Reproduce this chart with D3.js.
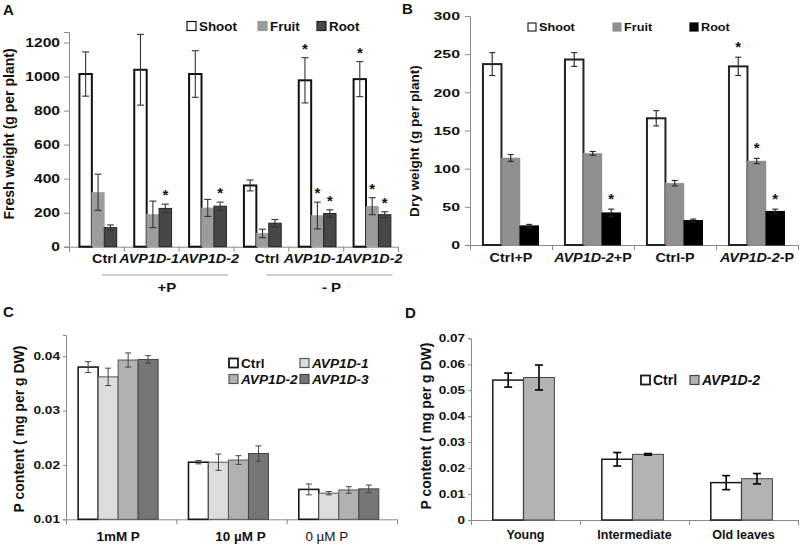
<!DOCTYPE html>
<html><head><meta charset="utf-8">
<script src="https://cdn.jsdelivr.net/npm/d3@7"></script>
<style>
body{margin:0;background:#fff}
svg{display:block}
text{font-family:Arial,"Liberation Sans",sans-serif}
</style>
</head><body>
<svg id="chart" width="800" height="545"></svg>
<script>
// ---------- Panel A : fresh weight ----------
const aGroups = ["Ctrl","AVP1D-1","AVP1D-2","Ctrl","AVP1D-1","AVP1D-2"];
const aSeries = ["Shoot","Fruit","Root"];
const aShoot = [1015,1040,1015,360,978,985];
const aShootErr = [130,208,137,32,133,103];
const aFruit = [320,190,228,78,183,238];
const aFruitErr = [106,78,50,25,79,50];
const aRoot = [112,225,238,138,195,188];
const aRootErr = [16,25,24,22,22,17];
const aStars = [[0,0,0],[0,0,1],[0,0,1],[0,0,0],[1,1,1],[1,1,1]];
const aTicks = [0,200,400,600,800,1000,1200];
const aConditions = ["+P","- P"];

// ---------- Panel B : dry weight ----------
const bGroups = ["Ctrl+P","AVP1D-2+P","Ctrl-P","AVP1D-2-P"];
const bSeries = ["Shoot","Fruit","Root"];
const bShoot = [237,243,166,234];
const bShootErr = [15,9,10,12];
const bFruit = [114,120,81,110];
const bFruitErr = [4.5,2.5,3.5,3.5];
const bRoot = [25,42,32,44];
const bRootErr = [2,5,2,3];
const bStars = [[0,0,0],[0,0,1],[0,0,0],[1,1,1]];
const bTicks = [0,50,100,150,200,250,300];

// ---------- Panel C : P content by P supply ----------
const cGroups = ["1mM P","10 \u00b5M P","0 \u00b5M P"];
const cSeries = ["Ctrl","AVP1D-1","AVP1D-2","AVP1D-3"];
const cCtrl = [0.0380,0.0205,0.0155];
const cCtrlErr = [0.0010,0.0003,0.0010];
const cL1 = [0.0362,0.0205,0.0148];
const cL1Err = [0.0016,0.0015,0.0003];
const cL2 = [0.0393,0.0209,0.0154];
const cL2Err = [0.0013,0.0008,0.0006];
const cL3 = [0.0394,0.0221,0.0156];
const cL3Err = [0.0007,0.0014,0.0007];
const cTicks = [0.01,0.02,0.03,0.04];

// ---------- Panel D : P content by leaf age ----------
const dGroups = ["Young","Intermediate","Old leaves"];
const dSeries = ["Ctrl","AVP1D-2"];
const dCtrl = [0.0539,0.0234,0.0144];
const dCtrlErr = [0.0027,0.0026,0.0027];
const dL2 = [0.0549,0.0253,0.0159];
const dL2Err = [0.0048,0.0003,0.0020];
const dTicks = [0,0.01,0.02,0.03,0.04,0.05,0.06,0.07];

const svg = d3.select("#chart");
const FONT = 'Arial, "Liberation Sans", sans-serif';

function stretch(sel, k){
  sel.each(function(){
    const L = this.getComputedTextLength();
    d3.select(this).attr("textLength", L*k).attr("lengthAdjust","spacingAndGlyphs");
  });
}
// write a label with italic gene names
function richText(t, label){
  const m = label.match(/^(AVP1D-\d)(.*)$/);
  if(m){
    t.append("tspan").attr("font-style","italic").text(m[1]);
    if(m[2]) t.append("tspan").text(m[2]);
  } else t.text(label);
  return t;
}

function panel(o){
  const g = svg.append("g");
  const n = o.groups.length;
  const x0 = d3.scaleBand().domain(d3.range(n)).range(o.xr);
  const bw = x0.bandwidth();
  const x1 = d3.scaleBand().domain(d3.range(o.series.length)).range([bw*o.inner[0], bw*o.inner[1]]);
  const y = d3.scaleLinear().domain(o.yd).range(o.yr);

  // y axis
  const ya = g.append("g").attr("transform",`translate(${o.xr[0]},0)`)
    .call(d3.axisLeft(y).tickValues(o.ticks).tickSizeOuter(0).tickSize(o.tickLen).tickPadding(o.tickPad)
      .tickFormat(o.tickFmt));
  ya.select(".domain").attr("stroke","#8a8a8a");
  ya.selectAll(".tick line").attr("stroke","#8a8a8a");
  ya.selectAll("text").attr("font-family",FONT).attr("font-size",o.tickFs).attr("font-weight","bold").attr("fill","#111");
  ya.attr("font-family",null).attr("font-size",null);
  stretch(ya.selectAll("text"), o.tickStretch);

  // x axis with boundary ticks
  const xb = d3.scaleLinear().domain([0,n]).range(o.xr);
  const xa = g.append("g").attr("transform",`translate(0,${o.yr[0]})`)
    .call(d3.axisBottom(xb).tickValues(d3.range(n+1)).tickFormat("").tickSizeOuter(0).tickSize(5));
  xa.select(".domain").attr("stroke","#8a8a8a");
  xa.selectAll(".tick line").attr("stroke","#8a8a8a");

  // bars
  o.series.forEach((s,si)=>{
    const st = o.styles[si];
    g.append("g").selectAll("rect").data(o.values[si]).join("rect")
      .attr("x",(d,i)=>x0(i)+x1(si)).attr("width",x1.bandwidth())
      .attr("y",d=>y(d)).attr("height",d=>y(o.yd[0])-y(d))
      .attr("fill",st.fill).attr("stroke",st.stroke).attr("stroke-width",st.sw);
  });
  // error bars & stars
  o.series.forEach((s,si)=>{
    const eg = g.append("g").attr("stroke",o.errColor).attr("stroke-width",o.errW).attr("fill","none");
    o.values[si].forEach((v,i)=>{
      const e = o.errs[si][i];
      const cx = x0(i)+x1(si)+x1.bandwidth()/2;
      const cw = o.capW/2;
      eg.append("line").attr("x1",cx).attr("x2",cx).attr("y1",y(v-e)).attr("y2",y(v+e));
      eg.append("line").attr("x1",cx-cw).attr("x2",cx+cw).attr("y1",y(v-e)).attr("y2",y(v-e));
      eg.append("line").attr("x1",cx-cw).attr("x2",cx+cw).attr("y1",y(v+e)).attr("y2",y(v+e));
      if(o.stars && o.stars[i][si]){
        g.append("text").attr("x",cx).attr("y",y(v+e)-o.starGap+10).attr("text-anchor","middle")
          .attr("font-size",15).attr("font-weight","bold").attr("fill","#111").text("*");
      }
    });
  });
  // x labels
  o.groups.forEach((lab,i)=>{
    const t = g.append("text").attr("x",x0(i)+bw/2+(o.labelDx? o.labelDx[i]:0)).attr("y",o.labelY)
      .attr("text-anchor","middle").attr("font-size",o.labelFs)
      .attr("font-weight", (o.labelBold? o.labelBold[i] : true) ? "bold":"normal").attr("fill","#111");
    richText(t, lab);
    stretch(t, o.labelStretch);
  });
  // y title
  g.append("text").attr("transform",`translate(${o.yTitle.x},${o.yTitle.y}) rotate(-90)`)
    .attr("text-anchor","middle").attr("font-size",o.yTitle.fs).attr("font-weight","bold").attr("fill","#111")
    .text(o.yTitle.text);
  // panel letter
  g.append("text").attr("x",o.letter.x).attr("y",o.letter.y).attr("font-size",15).attr("font-weight","bold")
    .attr("fill","#111").text(o.letter.t);
  // legend
  o.legend.forEach((L,si)=>{
    const st = o.styles[si];
    g.append("rect").attr("x",L.x).attr("y",L.y-L.s/2).attr("width",L.s).attr("height",L.s)
      .attr("fill",st.fill).attr("stroke",st.legStroke||st.stroke).attr("stroke-width",st.legSw||1.2);
    const t = g.append("text").attr("x",L.x+L.s+L.gap).attr("y",L.y+o.legFs*0.36)
      .attr("font-size",o.legFs).attr("font-weight","bold").attr("fill","#111");
    richText(t, o.series[si]);
    stretch(t, o.legStretch);
  });
  return {g,x0,y,bw};
}

// ----- A -----
const A = panel({
  groups:aGroups, series:aSeries,
  values:[aShoot,aFruit,aRoot], errs:[aShootErr,aFruitErr,aRootErr], stars:aStars,
  xr:[69,398], inner:[0.19,0.87], yd:[0,1262], yr:[246.7,32], ticks:aTicks, tickFmt:d3.format("d"),
  tickLen:5, tickPad:4, tickFs:12, tickStretch:1.3,
  styles:[{fill:"#fff",stroke:"#111",sw:2},{fill:"#9c9c9c",stroke:"#9c9c9c",sw:0.5,legStroke:"#9c9c9c"},{fill:"#474747",stroke:"#222",sw:1}],
  errColor:"#333", errW:1.1, capW:7, starGap:14,
  labelY:262.5, labelFs:12, labelStretch:1.2, labelDx:[8,-2,3,6,-2,2],
  yTitle:{x:14,y:134,fs:14,text:"Fresh weight (g per plant)"},
  letter:{x:3,y:15,t:"A"},
  legend:[{x:187,y:26,s:9,gap:3},{x:258,y:26,s:9,gap:3},{x:317,y:26,s:9,gap:3}],
  legFs:12.5, legStretch:1.07
});
// +P / -P condition lines
aConditions.forEach((c,k)=>{
  const x1 = A.x0(k*3)+A.bw*0.6, x2 = A.x0(k*3+2)+A.bw*0.9;
  A.g.append("line").attr("x1",x1).attr("x2",x2).attr("y1",275).attr("y2",275).attr("stroke","#999").attr("stroke-width",1);
  const t = A.g.append("text").attr("x",(x1+x2)/2+2).attr("y",292).attr("text-anchor","middle")
    .attr("font-size",13).attr("font-weight","bold").attr("fill","#111").text(c);
  stretch(t,1.15);
});

// ----- B -----
panel({
  groups:bGroups, series:bSeries,
  values:[bShoot,bFruit,bRoot], errs:[bShootErr,bFruitErr,bRootErr], stars:bStars,
  xr:[470,798], inner:[0.158,0.835], yd:[0,300], yr:[245,16], ticks:bTicks, tickFmt:d3.format("d"),
  tickLen:5, tickPad:5, tickFs:11.5, tickStretch:1.38,
  styles:[{fill:"#fff",stroke:"#222",sw:2},{fill:"#8f8f8f",stroke:"#8f8f8f",sw:0.5},{fill:"#000",stroke:"#000",sw:1}],
  errColor:"#222", errW:1.1, capW:6, starGap:15.5,
  labelY:261.5, labelFs:12.5, labelStretch:1.15,
  yTitle:{x:419,y:141,fs:13.6,text:"Dry weight (g per plant)"},
  letter:{x:402,y:13.5,t:"B"},
  legend:[{x:528,y:27,s:8,gap:3},{x:613,y:27,s:8,gap:3},{x:690,y:27,s:8,gap:3}],
  legFs:11.5, legStretch:1.1
});

// ----- C -----
panel({
  groups:cGroups, series:cSeries,
  values:[cCtrl,cL1,cL2,cL3], errs:[cCtrlErr,cL1Err,cL2Err,cL3Err],
  xr:[66,397], inner:[0.11,0.835], yd:[0.01,0.0439], yr:[519.3,335], ticks:cTicks, tickFmt:d3.format(".2f"),
  tickLen:3, tickPad:3, tickFs:10.5, tickStretch:1.3,
  styles:[{fill:"#fff",stroke:"#1a1a1a",sw:1.6,legSw:1.8},{fill:"#dcdcdc",stroke:"#555",sw:1},{fill:"#b1b1b1",stroke:"#555",sw:1},{fill:"#767676",stroke:"#444",sw:1}],
  errColor:"#444", errW:1, capW:6,
  labelY:541, labelFs:12, labelStretch:1.12, labelBold:[true,true,false], labelDx:[-3,9,-15],
  yTitle:{x:24,y:429,fs:14,text:"P content ( mg per g DW)"},
  letter:{x:3,y:317,t:"C"},
  legend:[{x:229,y:363,s:9,gap:3},{x:300,y:363,s:9,gap:3},{x:229,y:379,s:9,gap:3},{x:300,y:379,s:9,gap:3}],
  legFs:13, legStretch:1.05
});

// ----- D -----
panel({
  groups:dGroups, series:dSeries,
  values:[dCtrl,dL2], errs:[dCtrlErr,dL2Err],
  xr:[471,798], inner:[0.2,0.765], yd:[0,0.07], yr:[520,338.3], ticks:dTicks,
  tickFmt:d=> d===0 ? "0" : d3.format(".2f")(d),
  tickLen:3, tickPad:3, tickFs:10, tickStretch:1.35,
  styles:[{fill:"#fff",stroke:"#1a1a1a",sw:1.5,legSw:1.8},{fill:"#b3b3b3",stroke:"#444",sw:1}],
  errColor:"#000", errW:1.6, capW:8,
  labelY:538.5, labelFs:12.5, labelStretch:1.0,
  yTitle:{x:431,y:426,fs:14,text:"P content ( mg per g DW)"},
  letter:{x:405,y:318,t:"D"},
  legend:[{x:641,y:380,s:9,gap:3},{x:690,y:380,s:9,gap:3}],
  legFs:14, legStretch:1.0
});
</script>
</body></html>
